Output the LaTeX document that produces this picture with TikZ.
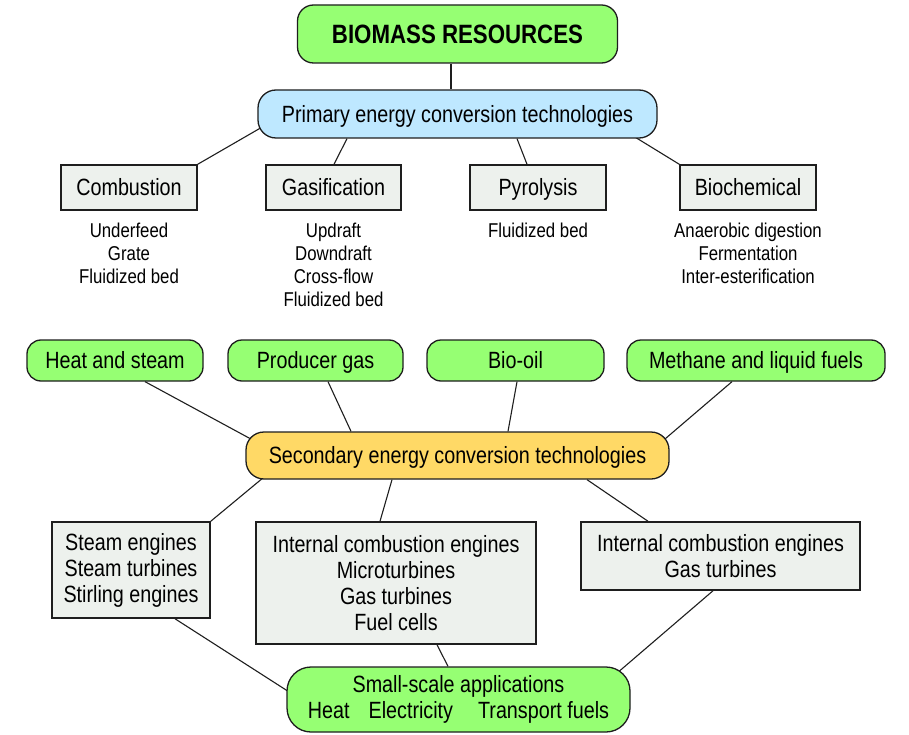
\documentclass[tikz,border=0pt]{standalone}
\usepackage{fontspec}
\setmainfont{Liberation Sans}[FakeStretch=0.84]
\usetikzlibrary{backgrounds,calc}
\definecolor{bgreen}{RGB}{150,255,115}
\definecolor{bblue}{RGB}{190,232,255}
\definecolor{byellow}{RGB}{255,217,102}
\definecolor{bgray}{RGB}{237,241,237}
\definecolor{bline}{RGB}{30,30,30}
\newcommand\mainsz{\fontsize{23.5}{26}\selectfont}
\newcommand\subsz{\fontsize{20}{23}\selectfont}
\newcommand\titlesz{\fontsize{26.5}{30}\selectfont\bfseries}
\begin{document}
\begin{tikzpicture}[x=1pt,y=-1pt,
  pill/.style={draw=bline, line width=1.3pt, rounded corners=#1, inner sep=0pt, align=center, font=\mainsz},
  greenpill/.style={pill=#1, fill=bgreen},
  graybox/.style={draw=bline, line width=1.5pt, fill=bgray, inner sep=0pt, align=center, font=\mainsz},
  oneline/.style={text height=17.6pt, text depth=0.8pt},
  subtext/.style={anchor=north, inner sep=0pt, align=center, font=\subsz},
  conn/.style={draw=bline, line width=1.1pt}]
\useasboundingbox (0,0) rectangle (909,735);

% top
\node[greenpill=16pt, text height=20pt, text depth=-1pt, minimum width=320pt, minimum height=58pt, font=\titlesz] (bio) at (457.5,34) {BIOMASS RESOURCES};
\node[pill=18pt, oneline, fill=bblue, minimum width=399pt, minimum height=48pt] (prim) at (457.5,114) {Primary energy conversion technologies};

% primary technologies
\node[graybox, oneline, minimum width=136pt, minimum height=45pt] (comb) at (129,187.5) {Combustion};
\node[graybox, oneline, minimum width=135pt, minimum height=45pt] (gas) at (333.5,187.5) {Gasification};
\node[graybox, oneline, minimum width=136pt, minimum height=45pt] (pyro) at (538,187.5) {Pyrolysis};
\node[graybox, oneline, minimum width=136pt, minimum height=45pt] (bioc) at (748,187.5) {Biochemical};

\node[subtext] (combs) at (129,223) {Underfeed\\Grate\\Fluidized bed};
\node[subtext] (gass) at (333.5,223) {Updraft\\Downdraft\\Cross-flow\\Fluidized bed};
\node[subtext] (pyros) at (538,223) {Fluidized bed};
\node[subtext] (biocs) at (748,223) {Anaerobic digestion\\Fermentation\\Inter-esterification};

% products
\node[greenpill=14pt, oneline, minimum width=176pt, minimum height=41pt] (heat) at (115,360.5) {Heat and steam};
\node[greenpill=14pt, oneline, minimum width=175pt, minimum height=41pt] (prod) at (315.5,360.5) {Producer gas};
\node[greenpill=14pt, oneline, minimum width=177pt, minimum height=41pt] (oil) at (515.5,360.5) {Bio-oil};
\node[greenpill=14pt, oneline, minimum width=258pt, minimum height=41pt] (meth) at (756,360.5) {Methane and liquid fuels};

\node[pill=18pt, oneline, fill=byellow, minimum width=423pt, minimum height=47pt] (sec) at (457.5,455.5) {Secondary energy conversion technologies};

% secondary technologies
\node[graybox, minimum width=158pt, minimum height=96pt] (lbox) at (131,570) {Steam engines\\Steam turbines\\Stirling engines};
\node[graybox, minimum width=280pt, minimum height=122pt] (mbox) at (396,583) {Internal combustion engines\\Microturbines\\Gas turbines\\Fuel cells};
\node[graybox, minimum width=279pt, minimum height=68pt] (rbox) at (720.5,556) {Internal combustion engines\\Gas turbines};

\node[greenpill=24pt, minimum width=343pt, minimum height=65pt] (small) at (458.5,699.5) {Small-scale applications\\Heat\hspace{19pt}Electricity\hspace{25pt}Transport fuels};

\begin{pgfonlayer}{background}
\fill[white] (0,0) rectangle (909,735);
\draw[conn] ([xshift=-6.5pt]bio.south) -- ([xshift=-6.5pt]prim.north);
\draw[conn] ([xshift=17pt,yshift=-6pt]prim.west) -- (comb.north east);
\draw[conn] ([xshift=-110.5pt]prim.south) -- ([xshift=0.5pt]gas.north);
\draw[conn] ([xshift=59.5pt]prim.south) -- ([xshift=-11pt]pyro.north);
\draw[conn] ([xshift=-25pt,yshift=3pt]prim.south east) -- (bioc.north west);

\draw[conn] ([xshift=30pt]heat.south) -- ([xshift=24pt,yshift=6.5pt]sec.west);
\draw[conn] ([xshift=12.5pt]prod.south) -- ([xshift=-106.5pt]sec.north);
\draw[conn] ([xshift=1.5pt]oil.south) -- ([xshift=50.5pt]sec.north);
\draw[conn] ([xshift=-24pt]meth.south) -- ([xshift=-24pt]sec.east);

\draw[conn] ([xshift=30pt,yshift=12pt]sec.south west) -- (lbox.north east);
\draw[conn] ([xshift=-65.5pt]sec.south) -- ([xshift=-16pt]mbox.north);
\draw[conn] ([xshift=129.5pt]sec.south) -- ([xshift=-72.5pt]rbox.north);

\draw[conn] ([xshift=44pt]lbox.south) -- ([xshift=20pt,yshift=-3.5pt]small.west);
\draw[conn] ([xshift=41pt]mbox.south) -- ([xshift=-10.5pt]small.north);
\draw[conn] ([xshift=-7.5pt]rbox.south) -- ([xshift=-31pt,yshift=11.5pt]small.east);
\end{pgfonlayer}
\end{tikzpicture}
\end{document}
